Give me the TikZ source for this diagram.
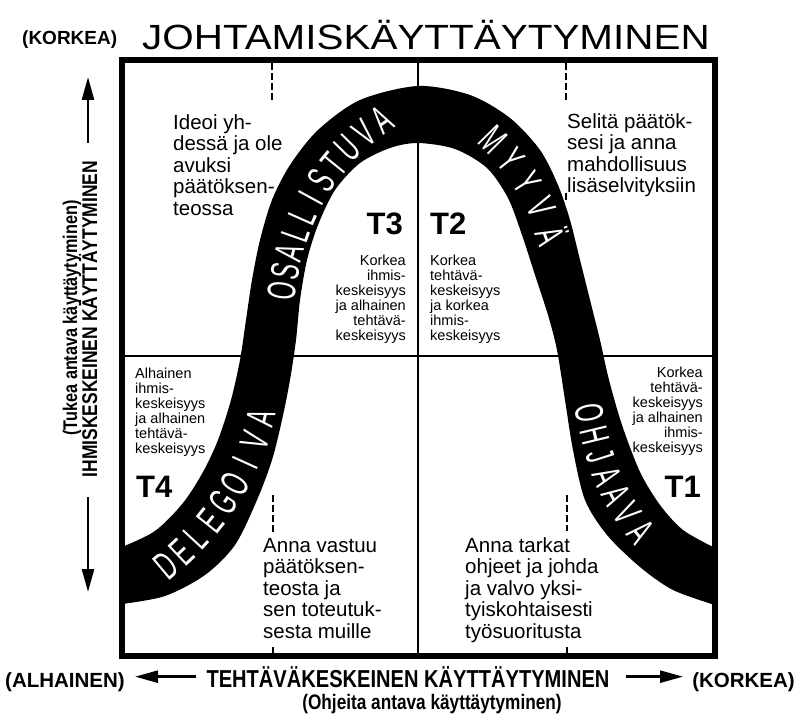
\documentclass[tikz,border=0pt]{standalone}
\usepackage{fontspec}
\setmainfont{Liberation Sans}
\newfontfamily\narrowfont[FakeStretch=0.82]{Liberation Sans}
\newfontfamily\widefont[FakeStretch=1.155]{Liberation Sans}
\newfontfamily\bandfont[FakeStretch=0.58]{Liberation Sans}
\usetikzlibrary{arrows.meta}

\tikzset{
  gridline/.style={line width=2.5pt},
  dashline/.style={line width=1.5pt,dash pattern=on 7pt off 3pt},
  bigtext/.style={inner sep=0pt,font=\fontsize{20.5}{21.5}\selectfont},
  smalltext/.style={inner sep=0pt,font=\fontsize{14.5}{15}\selectfont},
  tlabel/.style={inner sep=0pt,font=\bfseries\fontsize{31}{31}\selectfont},
  axislabel/.style={inner sep=0pt,font=\narrowfont\bfseries\fontsize{21.3}{21.3}\selectfont},
  sublabel/.style={inner sep=0pt,font=\narrowfont\bfseries\fontsize{19.8}{19.8}\selectfont},
  parenlabel/.style={inner sep=0pt,font=\bfseries\fontsize{20.5}{20.5}\selectfont},
  axarrow/.style={line width=2.5pt,-{Triangle[length=23pt,width=12pt]}},
  bandletter/.style={inner sep=0pt,text=white,font=\bandfont\fontsize{40}{40}\selectfont}
}

\begin{document}
\begin{tikzpicture}[x=1pt,y=-1pt]
\useasboundingbox[fill=white] (0,0) rectangle (798,722);

% quadrant lines
\draw[gridline] (418,60) -- (418,656);
\draw[gridline] (122,356) -- (715,356);
\draw[dashline] (272,63) -- (272,100);
\draw[dashline] (566,63) -- (566,100);
\draw[dashline] (273,199) -- (273,208);
\draw[dashline] (566,193) -- (566,201);
\draw[dashline] (273,495) -- (273,533);
\draw[dashline] (567,495) -- (567,531);
\draw[line width=1.5pt] (273,647) -- (273,656);
\draw[line width=1.5pt] (567,647) -- (567,656);

% the bell-shaped band
\fill[black] plot[smooth] coordinates {(122,547) (155,531) (183,503) (203,472) (218,440)
    (231,400) (240,360) (246,320) (252,280) (260,240) (272,200) (290,165) (318,130)
    (360,100) (418,86) (470,95) (510,118) (540,150) (558,185) (570,220) (580,260)
    (590,300) (600,340) (609,380) (622,425) (640,472) (660,505) (683,530) (715,548)}
  -- plot[smooth] coordinates {(715,605) (673,590) (640,567) (607,535) (585,500)
    (573,450) (565,400) (557,350) (548,315) (535,275) (522,235) (508,198) (487,168)
    (455,149) (418,143) (390,148) (360,163) (335,190) (318,225) (307,260) (300,300)
    (296,340) (290,380) (282,420) (272,460) (257,500) (235,545) (205,575) (165,596)
    (122,604)} -- cycle;

% style names along the band
\foreach \ch [count=\i, evaluate=\i as \p using (\i-0.5)/11] in {O,S,A,L,L,I,S,T,U,V,A}
  \path (281,300) .. controls (288,230) and (318,160) .. (392,113)
    node[bandletter,sloped,pos=\p] (osa\i) {\ch};
\foreach \ch [count=\i, evaluate=\i as \p using (\i-0.5)/5] in {M,Y,Y,V,Ä}
  \path (483,130) .. controls (516,160) and (542,200) .. (558,250)
    node[bandletter,sloped,pos=\p] (myy\i) {\ch};
\foreach \ch [count=\i, evaluate=\i as \p using (\i-0.5)/9] in {D,E,L,E,G,O,I,V,A}
  \path (158,572) .. controls (205,535) and (250,480) .. (264,405)
    node[bandletter,sloped,pos=\p] (del\i) {\ch};
\foreach \ch [count=\i, evaluate=\i as \p using (\i-0.5)/7] in {O,H,J,A,A,V,A}
  \path (588,402) .. controls (596,455) and (612,500) .. (648,540)
    node[bandletter,sloped,pos=\p] (ohj\i) {\ch};

% frame
\draw[line width=6pt] (122,60) rectangle (715,656);

% styles T1..T4
\node[tlabel,anchor=base east] (t3) at (403,235) {T3};
\node[tlabel,anchor=base west] (t2) at (430,235) {T2};
\node[tlabel,anchor=base west] (t4) at (136,497) {T4};
\node[tlabel,anchor=base east] (t1) at (701,497) {T1};

\node[smalltext,align=right,anchor=north east] (t3txt) at (406,254.5)
  {Korkea\\ihmis-\\keskeisyys\\ja alhainen\\tehtävä-\\keskeisyys};
\node[smalltext,align=left,anchor=north west] (t2txt) at (430,254.5)
  {Korkea\\tehtävä-\\keskeisyys\\ja korkea\\ihmis-\\keskeisyys};
\node[smalltext,align=left,anchor=north west] (t4txt) at (135,367.5)
  {Alhainen\\ihmis-\\keskeisyys\\ja alhainen\\tehtävä-\\keskeisyys};
\node[smalltext,align=right,anchor=north east] (t1txt) at (703,366.5)
  {Korkea\\tehtävä-\\keskeisyys\\ja alhainen\\ihmis-\\keskeisyys};

\node[bigtext,align=left,anchor=north west] (t3adv) at (173,114)
  {Ideoi yh-\\dessä ja ole\\avuksi\\päätöksen-\\teossa};
\node[bigtext,align=left,anchor=north west] (t2adv) at (567,113)
  {Selitä päätök-\\sesi ja anna\\mahdollisuus\\lisäselvityksiin};
\node[bigtext,align=left,anchor=north west] (t4adv) at (263,538)
  {Anna vastuu\\päätöksen-\\teosta ja\\sen toteutuk-\\sesta muille};
\node[bigtext,align=left,anchor=north west] (t1adv) at (465,537)
  {Anna tarkat\\ohjeet ja johda\\ja valvo yksi-\\tyiskohtaisesti\\työsuoritusta};

% title
\node[inner sep=0pt,anchor=base west,font=\widefont\fontsize{35}{35}\selectfont] (title)
  at (142,50) {JOHTAMISKÄYTTÄYTYMINEN};
\node[inner sep=0pt,anchor=base west,font=\bfseries\fontsize{19}{19}\selectfont] (yhigh)
  at (22,45) {(KORKEA)};

% vertical axis
\node[axislabel,rotate=90,anchor=base] (ylab) at (97,319) {IHMISKESKEINEN KÄYTTÄYTYMINEN};
\node[sublabel,rotate=90,anchor=base] (ysub) at (77,318) {(Tukea antava käyttäytyminen)};
\coordinate (ytop) at (90,77);
\coordinate (ybot) at (90,592);
\draw[axarrow,shorten <=18pt] (ylab.east) -- (ylab.east |- ytop);
\draw[axarrow,shorten <=20pt] (ylab.west) -- (ylab.west |- ybot);

% horizontal axis
\node[axislabel,anchor=base,font=\narrowfont\bfseries\fontsize{24.5}{24.5}\selectfont] (xlab)
  at (408,687) {TEHTÄVÄKESKEINEN KÄYTTÄYTYMINEN};
\node[parenlabel,anchor=base west] (xlow) at (5,687) {(ALHAINEN)};
\node[parenlabel,anchor=base east] (xhigh) at (795,687) {(KORKEA)};
\node[sublabel,anchor=base,font=\narrowfont\bfseries\fontsize{21}{21}\selectfont] (xsub)
  at (432,709) {(Ohjeita antava käyttäytyminen)};
\coordinate (xtipl) at (135,677);
\coordinate (xtipr) at (683,677);
\draw[axarrow,shorten <=10pt] (xlab.west) -- (xlab.west -| xtipl);
\draw[axarrow,shorten <=16pt] (xlab.east) -- (xlab.east -| xtipr);
\end{tikzpicture}
\end{document}
